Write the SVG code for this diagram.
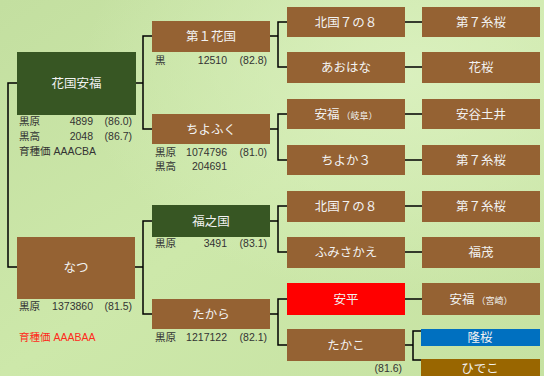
<svg xmlns="http://www.w3.org/2000/svg" width="544" height="376" viewBox="0 0 544 376">
<defs>
<linearGradient id="bg" x1="0" y1="0" x2="1" y2="1">
<stop offset="0" stop-color="#c3dfa0"/>
<stop offset="0.5" stop-color="#cde8aa"/>
<stop offset="1" stop-color="#c6e2a2"/>
</linearGradient>
<radialGradient id="glow" cx="0.75" cy="0.2" r="0.6">
<stop offset="0" stop-color="#dbf1c0" stop-opacity="0.9"/>
<stop offset="1" stop-color="#dbf1c0" stop-opacity="0"/>
</radialGradient>
<style>
.b{fill:#956233}
.g{fill:#375623}
.lb{font-family:"Noto Sans CJK JP","Liberation Sans",sans-serif;font-size:12.5px;fill:#f2f2f2;text-anchor:middle}
.sm{font-size:9px}
.d{font-family:"Liberation Sans","Noto Sans CJK JP",sans-serif;font-size:10.5px;fill:#333333}
.r{text-anchor:end}
.red{fill:#ff2a1a}
.c{fill:none;stroke:#000000;stroke-width:1.5}
</style>
</defs>
<rect width="544" height="376" fill="url(#bg)"/>
<rect width="544" height="376" fill="url(#glow)"/>

<g id="connectors">
<path class="c" d="M17,83H8V267H17"/>
<path class="c" d="M136,83H143M152,36H143V129H152"/>
<path class="c" d="M135,267H143M152,221H143V314H152"/>
<path class="c" d="M270,36H278M287,22H278V67H287"/>
<path class="c" d="M270,129H278M287,114H278V160H287"/>
<path class="c" d="M270,221H278M287,206H278V252H287"/>
<path class="c" d="M270,314H278M287,299H278V345H287"/>
<path class="c" d="M405,22H422M405,67H422M405,114H422M405,160H422M405,206H422M405,252H422M405,299H422"/>
<path class="c" d="M405,345H413M421,331H413V360H421"/>
</g>

<g id="n-hanakuniyasufuku">
<rect class="g" x="17" y="52" width="119" height="63"/>
<text class="lb" x="76.5" y="88">花国安福</text>
<text class="d" x="19" y="125">黒原</text><text class="d r" x="93" y="125">4899</text><text class="d r" x="132" y="125">(86.0)</text>
<text class="d" x="19" y="140">黒高</text><text class="d r" x="93" y="140">2048</text><text class="d r" x="132" y="140">(86.7)</text>
<text class="d" x="19" y="155">育種価 AAACBA</text>
</g>

<g id="n-natsu">
<rect class="b" x="17" y="237" width="118" height="62"/>
<text class="lb" x="76" y="272">なつ</text>
<text class="d" x="19" y="310">黒原</text><text class="d r" x="93" y="310">1373860</text><text class="d r" x="132" y="310">(81.5)</text>
<text class="d red" x="19" y="341">育種価 AAABAA</text>
</g>

<g id="n-dai1hanakuni">
<rect class="b" x="152" y="21" width="118" height="31"/>
<text class="lb" x="211" y="41">第１花国</text>
<text class="d" x="155" y="64">黒</text><text class="d r" x="227" y="64">12510</text><text class="d r" x="267" y="64">(82.8)</text>
</g>

<g id="n-chiyofuku">
<rect class="b" x="152" y="114" width="118" height="30"/>
<text class="lb" x="211" y="134">ちよふく</text>
<text class="d" x="155" y="156">黒原</text><text class="d r" x="227" y="156">1074796</text><text class="d r" x="267" y="156">(81.0)</text>
<text class="d" x="155" y="170">黒高</text><text class="d r" x="227" y="170">204691</text>
</g>

<g id="n-fukunokuni">
<rect class="g" x="152" y="205" width="118" height="32"/>
<text class="lb" x="211" y="226">福之国</text>
<text class="d" x="155" y="247">黒原</text><text class="d r" x="227" y="247">3491</text><text class="d r" x="267" y="247">(83.1)</text>
</g>

<g id="n-takara">
<rect class="b" x="152" y="299" width="118" height="30"/>
<text class="lb" x="211" y="319">たから</text>
<text class="d" x="155" y="341">黒原</text><text class="d r" x="227" y="341">1217122</text><text class="d r" x="267" y="341">(82.1)</text>
</g>

<g id="n-kitakuni1"><rect class="b" x="287" y="7" width="118" height="30"/><text class="lb" x="346" y="27">北国７の８</text></g>
<g id="n-aohana"><rect class="b" x="287" y="52" width="118" height="31"/><text class="lb" x="346" y="72">あおはな</text></g>
<g id="n-yasufuku-gifu"><rect class="b" x="287" y="99" width="118" height="30"/><text class="lb" x="346" y="119">安福<tspan class="sm"> （岐阜）</tspan></text></g>
<g id="n-chiyoka3"><rect class="b" x="287" y="145" width="118" height="30"/><text class="lb" x="346" y="165">ちよか３</text></g>
<g id="n-kitakuni2"><rect class="b" x="287" y="191" width="118" height="31"/><text class="lb" x="346" y="211">北国７の８</text></g>
<g id="n-fumisakae"><rect class="b" x="287" y="237" width="118" height="31"/><text class="lb" x="346" y="257">ふみさかえ</text></g>
<g id="n-yasuhira"><rect fill="#ff0000" x="287" y="283" width="118" height="32"/><text class="lb" x="346" y="304">安平</text></g>
<g id="n-takako">
<rect class="b" x="287" y="329" width="118" height="32"/><text class="lb" x="346" y="350">たかこ</text>
<text class="d r" x="402" y="372">(81.6)</text>
</g>

<g id="n-dai7itozakura1"><rect class="b" x="422" y="7" width="118" height="30"/><text class="lb" x="481" y="27">第７糸桜</text></g>
<g id="n-hanazakura"><rect class="b" x="422" y="52" width="118" height="31"/><text class="lb" x="481" y="72">花桜</text></g>
<g id="n-yasutanidoi"><rect class="b" x="422" y="99" width="118" height="30"/><text class="lb" x="481" y="119">安谷土井</text></g>
<g id="n-dai7itozakura2"><rect class="b" x="422" y="145" width="118" height="30"/><text class="lb" x="481" y="165">第７糸桜</text></g>
<g id="n-dai7itozakura3"><rect class="b" x="422" y="191" width="118" height="31"/><text class="lb" x="481" y="211">第７糸桜</text></g>
<g id="n-fukushige"><rect class="b" x="422" y="237" width="118" height="31"/><text class="lb" x="481" y="257">福茂</text></g>
<g id="n-yasufuku-miyazaki"><rect class="b" x="422" y="283" width="118" height="32"/><text class="lb" x="481" y="304">安福<tspan class="sm"> （宮崎）</tspan></text></g>
<g id="n-takazakura"><rect fill="#0070c0" x="421" y="329" width="119" height="17"/><text class="lb" x="480" y="342">隆桜</text></g>
<g id="n-hideko"><rect fill="#996600" x="421" y="359" width="119" height="20"/><text class="lb" x="480" y="373">ひでこ</text></g>
</svg>
